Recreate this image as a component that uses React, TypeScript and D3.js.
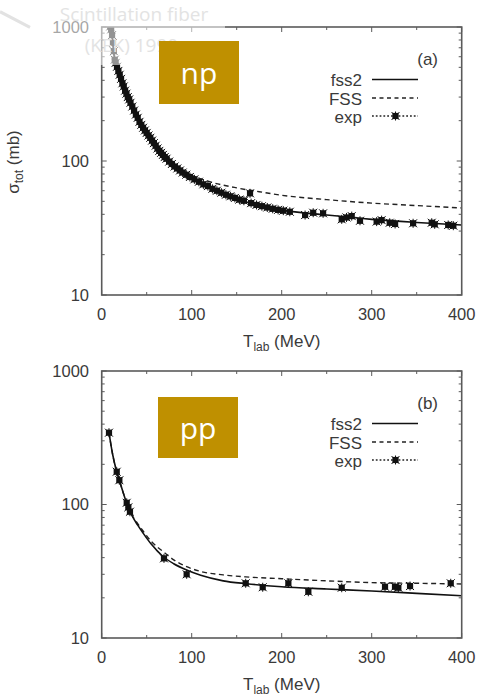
import React from 'react';
import * as d3 from 'd3';

// ---------- DATA ----------
const xTicks = [0, 100, 200, 300, 400];
const xMinorTicks = [50, 150, 250, 350];
const yTicks = [10, 100, 1000];
const yMinorTicks = [20, 30, 40, 50, 60, 70, 80, 90, 200, 300, 400, 500, 600, 700, 800, 900];

// np panel (a): [T_lab MeV, sigma_tot mb]
const npFss2: [number, number][] = [
  [8, 1400], [10, 1050], [12, 800], [14.5, 560], [20, 440], [25, 350], [31, 285], [36, 235],
  [43, 191], [50, 162], [57, 138], [65, 117], [72, 104], [79, 93], [90, 82], [100, 75],
  [110, 69], [120, 64], [142, 54.5], [172, 47], [200, 43], [250, 39.5], [300, 36.7],
  [350, 34.8], [400, 33.3],
];
const npFss: [number, number][] = [
  [8, 1400], [10, 1050], [12, 800], [14.5, 560], [20, 440], [25, 350], [31, 285], [36, 235],
  [43, 191], [50, 162], [57, 138], [65, 117], [72, 104], [80, 93], [90, 84], [100, 78],
  [120, 70], [150, 63], [175, 59], [200, 55.5], [250, 51.5], [300, 48.5], [350, 46.5],
  [400, 44.6],
];
const npExp: [number, number][] = [
  [9.5, 1010], [10.5, 960], [11.5, 870], [12.5, 760], [13.5, 660], [14.5, 570], [15.5, 540],
  [17, 505], [18.5, 470], [20, 440], [21.5, 410], [23, 380], [24.5, 360], [26, 335],
  [27.5, 318], [29, 300], [30.5, 288], [32, 272], [34, 255], [36, 238], [38, 222], [40, 210],
  [42, 196], [44, 186], [46, 177], [48, 169], [50, 162], [52, 155], [54, 149], [56, 142],
  [58, 136], [60, 130], [62, 124], [64, 119], [66, 115], [68, 111], [70, 107], [72, 104],
  [75, 99], [78, 95], [81, 91], [84, 88], [87, 85], [90, 82], [94, 79], [98, 76], [103, 73],
  [108, 70], [113, 67], [118, 65], [123, 62], [128, 60], [133, 58], [138, 56], [143, 54.5],
  [148, 53], [153, 51.5], [158, 50.5], [164.8, 57.4], [166, 48.5], [172, 47], [178, 46],
  [184, 45], [190, 44], [196, 43.2], [201.8, 42.6], [209, 41.8], [226, 39.5], [235, 41.1],
  [246, 40.7], [266.7, 36.7], [272, 37.9], [277.8, 38.8], [287, 35.8], [305.5, 35.3],
  [311, 36.2], [320, 34.6], [326, 33.9], [346, 34.3], [366.7, 34.6], [370, 33.7],
  [385, 33.3], [390.7, 32.9],
];

// pp panel (b)
const ppFss2: [number, number][] = [
  [8.1, 345], [12, 240], [16.7, 176], [19.6, 152], [24, 122], [27.8, 102], [33.3, 83.4],
  [40, 70], [46.2, 60.8], [55, 50.5], [68.4, 40.6], [80, 36], [94.4, 32.3], [110, 29.5],
  [135, 26.8], [161, 25.5], [200, 24.2], [250, 23.3], [300, 22.5], [350, 21.6], [400, 20.7],
];
const ppFss: [number, number][] = [
  [8.1, 345], [12, 240], [16.7, 176], [19.6, 152], [24, 122], [27.8, 102], [33.3, 84],
  [40, 72], [46.2, 63], [55, 53], [68.4, 44.3], [80, 38.5], [94.4, 34.2], [110, 31.5],
  [135, 29.7], [160, 28.7], [200, 27.8], [250, 26.8], [300, 26], [350, 25.7], [400, 25.4],
];
const ppExp: [number, number][] = [
  [8.1, 345], [16.7, 176], [19.6, 152], [27.8, 103], [29.6, 95.3], [31.4, 88.3],
  [69.2, 39.5], [94.4, 30], [160, 25.7], [178.9, 24], [207.4, 25.7], [229.6, 22.2],
  [266.7, 23.8], [314.8, 24.2], [325.9, 24.2], [329.6, 23.8], [342.6, 24.5], [387.8, 25.7],
];

const legendLabels = ['fss2', 'FSS', 'exp'];

// ---------- LAYOUT ----------
const X0 = 101.7;
const X1 = 461.7;
const FONT = '"Liberation Sans", Arial, Helvetica, sans-serif';
const FRAME = '#5a5a5a';
const TXT = '#3a3a3a';

function Marker({ x, y }: { x: number; y: number }) {
  return (
    <g>
      <rect x={x - 3.1} y={y - 3.1} width={6.2} height={6.2} fill="#111" />
      <path d={`M${x - 4},${y - 4}L${x + 4},${y + 4}M${x - 4},${y + 4}L${x + 4},${y - 4}M${x},${y - 4.5}L${x},${y + 4.5}`} stroke="#111" strokeWidth={1} />
    </g>
  );
}

function Panel({ top, bottom, fss2, fss, exp, tag, id, ylabel }: {
  top: number; bottom: number; fss2: [number, number][]; fss: [number, number][];
  exp: [number, number][]; tag: string; id: string; ylabel: boolean;
}) {
  const x = d3.scaleLinear().domain([0, 400]).range([X0, X1]);
  const y = d3.scaleLog().domain([10, 1000]).range([bottom, top]);
  const line = d3.line<[number, number]>().x(d => x(d[0])).y(d => y(d[1])).curve(d3.curveMonotoneX);
  const clipId = `clip-${id}`;
  const lx0 = 372, lx1 = 418;
  const rows = [top + 52.5, top + 71, top + 89];
  return (
    <g fontFamily={FONT}>
      <defs>
        <clipPath id={clipId}>
          <rect x={X0} y={top} width={X1 - X0} height={bottom - top} />
        </clipPath>
      </defs>
      {xTicks.map(t => (
        <g key={'xt' + t}>
          <line x1={x(t)} x2={x(t)} y1={bottom} y2={bottom - 5} stroke={FRAME} strokeWidth={1} />
          <line x1={x(t)} x2={x(t)} y1={top} y2={top + 5} stroke={FRAME} strokeWidth={1} />
          <text x={x(t)} y={bottom + 24.5} textAnchor="middle" fontSize={16.5} fill={TXT}>{t}</text>
        </g>
      ))}
      {xMinorTicks.map(t => (
        <g key={'xm' + t}>
          <line x1={x(t)} x2={x(t)} y1={bottom} y2={bottom - 3} stroke={FRAME} strokeWidth={1} />
          <line x1={x(t)} x2={x(t)} y1={top} y2={top + 3} stroke={FRAME} strokeWidth={1} />
        </g>
      ))}
      {yTicks.map(t => (
        <g key={'yt' + t}>
          <line x1={X0} x2={X0 + 5} y1={y(t)} y2={y(t)} stroke={FRAME} strokeWidth={1} />
          <line x1={X1} x2={X1 - 5} y1={y(t)} y2={y(t)} stroke={FRAME} strokeWidth={1} />
          <text x={89} y={y(t)} dy="0.36em" textAnchor="end" fontSize={16.5} fill={TXT}>{t}</text>
        </g>
      ))}
      {yMinorTicks.map(t => (
        <g key={'ym' + t}>
          <line x1={X0} x2={X0 + 3} y1={y(t)} y2={y(t)} stroke={FRAME} strokeWidth={1} />
          <line x1={X1} x2={X1 - 3} y1={y(t)} y2={y(t)} stroke={FRAME} strokeWidth={1} />
        </g>
      ))}
      <g clipPath={`url(#${clipId})`}>
        <path d={line(fss) || ''} fill="none" stroke="#222" strokeWidth={1.4} strokeDasharray="5,3.5" />
        <path d={line(fss2) || ''} fill="none" stroke="#111" strokeWidth={1.6} />
        {exp.map((d, i) => <Marker key={i} x={x(d[0])} y={y(d[1])} />)}
      </g>
      <rect x={X0} y={top} width={X1 - X0} height={bottom - top} fill="none" stroke={FRAME} strokeWidth={1.6} />
      <text x={438} y={top + 37.5} textAnchor="end" fontSize={17} fill={TXT}>{tag}</text>
      {legendLabels.map((lab, i) => (
        <text key={lab} x={362} y={rows[i] + 6.5} textAnchor="end" fontSize={17} fill={TXT}>{lab}</text>
      ))}
      <line x1={lx0} x2={lx1} y1={rows[0]} y2={rows[0]} stroke="#111" strokeWidth={1.6} />
      <line x1={lx0} x2={lx1} y1={rows[1]} y2={rows[1]} stroke="#222" strokeWidth={1.4} strokeDasharray="4,3.5" />
      <line x1={lx0} x2={lx1} y1={rows[2]} y2={rows[2]} stroke="#222" strokeWidth={1.4} strokeDasharray="1.8,2" />
      <Marker x={395.5} y={rows[2]} />
      <text x={(X0 + X1) / 2} y={bottom + 51.5} textAnchor="middle" fontSize={17} fill={TXT}>
        T<tspan fontSize={12} dy={4}>lab</tspan><tspan dy={-4}> (MeV)</tspan>
      </text>
      {ylabel && (
        <text transform={`translate(19, 162) rotate(-90)`} textAnchor="middle" fontSize={17} fill={TXT}>
          σ<tspan fontSize={12} dy={4}>tot</tspan><tspan dy={-4}> (mb)</tspan>
        </text>
      )}
    </g>
  );
}

export default function App() {
  return (
    <svg width={483} height={695} style={{ position: 'absolute', left: 0, top: 0, background: '#fff' }}>
      <rect x={0} y={0} width={483} height={695} fill="#fff" />
      <Panel top={27} bottom={295} fss2={npFss2} fss={npFss} exp={npExp} tag="(a)" id="np" ylabel={true} />
      <Panel top={371} bottom={638} fss2={ppFss2} fss={ppFss} exp={ppExp} tag="(b)" id="pp" ylabel={false} />
      <rect x={45} y={0} width={180} height={65} fill="#fff" opacity={0.55} />
      <line x1={0} y1={11.7} x2={30} y2={27.3} stroke="#e2e2e2" strokeWidth={3} />
      <g fontFamily='"Open Sans", "Noto Sans", sans-serif' fontSize={19} fill="#e3e3e3" textAnchor="middle">
        <text x={134} y={21}>Scintillation fiber</text>
        <text x={136} y={52}>(KEK) 1990s</text>
      </g>
      <rect x={159} y={41} width={80} height={63} fill="#BF9000" />
      <text x={199} y={84} textAnchor="middle" fontFamily='"Open Sans", "Noto Sans", sans-serif' fontSize={30} fill="#fff">np</text>
      <rect x={158} y={397} width={80} height={61} fill="#BF9000" />
      <text x={198} y={439} textAnchor="middle" fontFamily='"Open Sans", "Noto Sans", sans-serif' fontSize={30} fill="#fff">pp</text>
    </svg>
  );
}
